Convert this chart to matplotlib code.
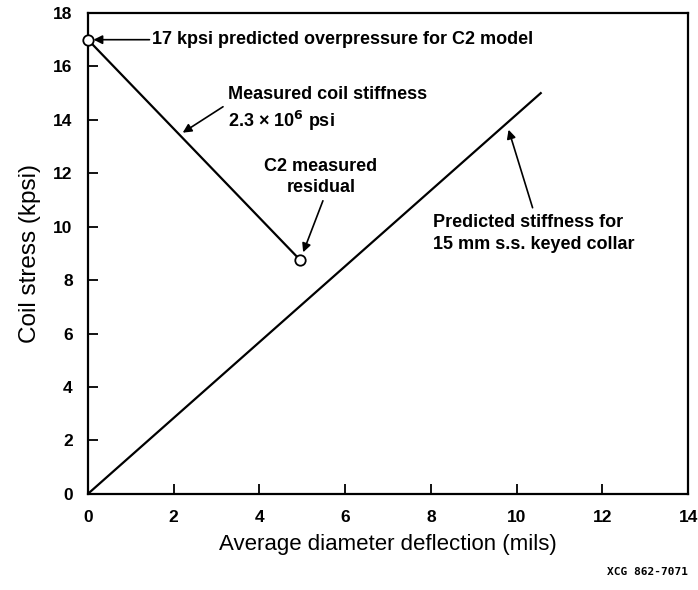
import matplotlib
matplotlib.use("Agg")
import matplotlib.pyplot as plt

plt.rcParams['font.family'] = ['Liberation Sans', 'DejaVu Sans']

# Data
measured_x = [0.0, 4.95]
measured_y = [17.0, 8.75]
predicted_x = [0.0, 10.56]
predicted_y = [0.0, 15.0]
xticks = [0, 2, 4, 6, 8, 10, 12, 14]
yticks = [0, 2, 4, 6, 8, 10, 12, 14, 16, 18]

fig = plt.figure(figsize=(6.98, 5.90), dpi=100)
ax = fig.add_axes([0.126, 0.163, 0.86, 0.815])

ax.plot(predicted_x, predicted_y, color='black', lw=1.6)
ax.plot(measured_x, measured_y, color='black', lw=1.6)
ax.plot([measured_x[0], measured_x[1]], [measured_y[0], measured_y[1]], 'o',
        mfc='white', mec='black', ms=7.5, mew=1.3, clip_on=False, zorder=5)

ax.set_xlim(0, 14)
ax.set_ylim(0, 18)
ax.set_xticks(xticks)
ax.set_yticks(yticks)
ax.tick_params(direction='in', length=7, width=1.3, labelsize=12.5,
               top=False, right=False)
ax.tick_params(axis='x', pad=12)
ax.tick_params(axis='y', pad=11)
for lbl in ax.get_xticklabels() + ax.get_yticklabels():
    lbl.set_fontweight('bold')
for sp in ax.spines.values():
    sp.set_linewidth(1.6)

ax.set_xlabel('Average diameter deflection (mils)', fontsize=16, labelpad=6)
ax.set_ylabel('Coil stress (kpsi)', fontsize=17.5, labelpad=9)

ap = dict(arrowstyle='-|>', color='black', lw=1.2, mutation_scale=13,
          shrinkA=0, shrinkB=4)
tkw = dict(fontsize=13, fontweight='bold')

ax.annotate('17 kpsi predicted overpressure for C2 model',
            xy=(measured_x[0], measured_y[0]), xytext=(1.5, 17.0),
            va='center', ha='left', arrowprops=ap, **tkw)

ax.annotate('', xy=(2.21, 13.52), xytext=(3.15, 14.49), arrowprops=dict(ap, shrinkB=0))
ax.text(3.26, 14.93, 'Measured coil stiffness', ha='left', va='center', **tkw)
ax.text(3.26, 14.07, '2.3 × 10$^{\\mathbf{6}}$ psi', ha='left',
        va='center_baseline', **tkw)

ax.text(5.43, 12.25, 'C2 measured', ha='center', va='center', **tkw)
ax.text(5.43, 11.46, 'residual', ha='center', va='center', **tkw)
ax.annotate('', xy=(measured_x[1], measured_y[1]), xytext=(5.48, 10.97),
            arrowprops=dict(ap, shrinkB=6))

ax.text(8.04, 10.15, 'Predicted stiffness for', ha='left', va='center', **tkw)
ax.text(8.04, 9.33, '15 mm s.s. keyed collar', ha='left', va='center', **tkw)
ax.annotate('', xy=(9.81, 13.63), xytext=(10.37, 10.71), arrowprops=dict(ap, shrinkB=0))

fig.text(0.985, 0.03, 'XCG 862-7071', ha='right', va='center',
         fontsize=8, family='DejaVu Sans Mono', fontweight='bold')

fig.savefig('out.png', dpi=100)
